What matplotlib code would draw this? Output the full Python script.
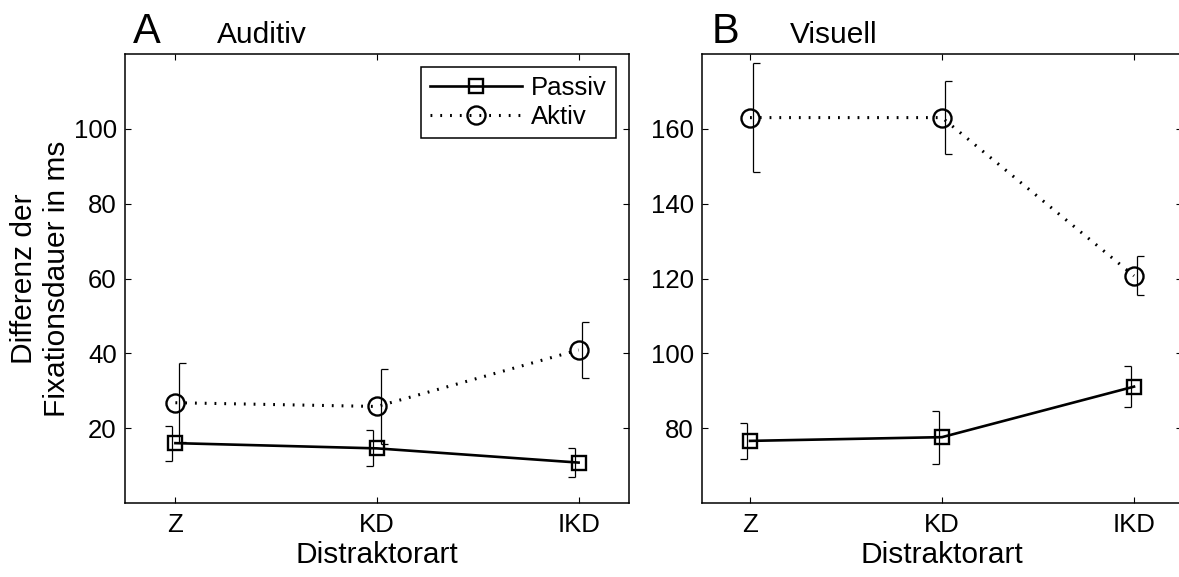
import numpy as np
import matplotlib
matplotlib.use('Agg')
import matplotlib.pyplot as plt

plt.rcParams['font.family'] = ['Liberation Sans', 'DejaVu Sans']

categories = ['Z', 'KD', 'IKD']

# Auditiv
aud_passiv = [16.0, 14.6, 10.8]
aud_passiv_err = [4.7, 4.8, 3.9]
aud_aktiv = [26.8, 25.8, 40.9]
aud_aktiv_err = [10.5, 9.9, 7.4]

# Visuell
vis_passiv = [76.6, 77.6, 91.1]
vis_passiv_err = [4.9, 7.1, 5.4]
vis_aktiv = [163.0, 163.0, 120.7]
vis_aktiv_err = [14.5, 9.7, 5.2]

W, H = 1179, 577
fig = plt.figure(figsize=(W / 100, H / 100), dpi=100)

ax_a = fig.add_axes([125 / W, (H - 503) / H, 504 / W, 449 / H])
ax_b = fig.add_axes([702 / W, (H - 503) / H, 480 / W, 449 / H])

x = np.arange(1, len(categories) + 1)


def bracket(ax, xs, ys, errs, off, cap):
    xs = np.asarray(xs, float) + off
    ys = np.asarray(ys, float)
    errs = np.asarray(errs, float)
    lo, hi = ys - errs, ys + errs
    ax.vlines(xs, lo, hi, color='black', lw=0.9, zorder=2)
    ax.hlines(lo, xs, xs + cap, color='black', lw=0.9, zorder=2)
    ax.hlines(hi, xs, xs + cap, color='black', lw=0.9, zorder=2)


def panel(ax, passiv, passiv_err, aktiv, aktiv_err, ylim, yticks):
    bracket(ax, x, passiv, passiv_err, -0.018, -0.036)
    bracket(ax, x, aktiv, aktiv_err, 0.018, 0.036)
    lp, = ax.plot(x, passiv, color='black', lw=1.9, marker='s', ms=9.5,
                  mfc='none', mec='black', mew=1.7, label='Passiv', zorder=3)
    la, = ax.plot(x, aktiv, color='black', lw=2.2, ls=(0, (0.6, 2.6)),
                  marker='o', ms=13, mfc='none', mec='black', mew=1.7,
                  label='Aktiv', zorder=3)
    ax.set_xlim(0.75, 3.25)
    ax.set_ylim(*ylim)
    ax.set_xticks(x)
    ax.set_xticklabels(categories)
    ax.set_yticks(yticks)
    ax.tick_params(direction='in', top=True, right=True, length=4.5,
                   width=0.8, labelsize=18.5)
    ax.tick_params(axis='x', pad=7)
    ax.tick_params(axis='y', pad=6)
    for s in ax.spines.values():
        s.set_linewidth(1.1)
    ax.set_xlabel('Distraktorart', fontsize=21.5, labelpad=3)
    return lp, la


lp, la = panel(ax_a, aud_passiv, aud_passiv_err, aud_aktiv, aud_aktiv_err,
               (0, 120), [20, 40, 60, 80, 100])
panel(ax_b, vis_passiv, vis_passiv_err, vis_aktiv, vis_aktiv_err,
      (60, 180), [80, 100, 120, 140, 160])

ax_a.set_ylabel('Differenz der\nFixationsdauer in ms', fontsize=21.5,
                linespacing=1.2)
ax_a.yaxis.set_label_coords(-0.108, 0.5)

leg = ax_a.legend(handles=[lp, la], loc='upper right',
                  bbox_to_anchor=(0.974, 0.971), borderaxespad=0,
                  fontsize=18.5, numpoints=1, handlelength=3.6,
                  handletextpad=0.35, labelspacing=0.2, borderpad=0.35,
                  fancybox=False, edgecolor='black', framealpha=1)
leg.get_frame().set_linewidth(1.1)

fig.text(133 / W, 1 - 43 / H, 'A', fontsize=30, va='baseline')
fig.text(217 / W, 1 - 43 / H, 'Auditiv', fontsize=21.5, va='baseline')
fig.text(712 / W, 1 - 43 / H, 'B', fontsize=30, va='baseline')
fig.text(790 / W, 1 - 43 / H, 'Visuell', fontsize=21.5, va='baseline')

fig.savefig('out.png', dpi=100)
